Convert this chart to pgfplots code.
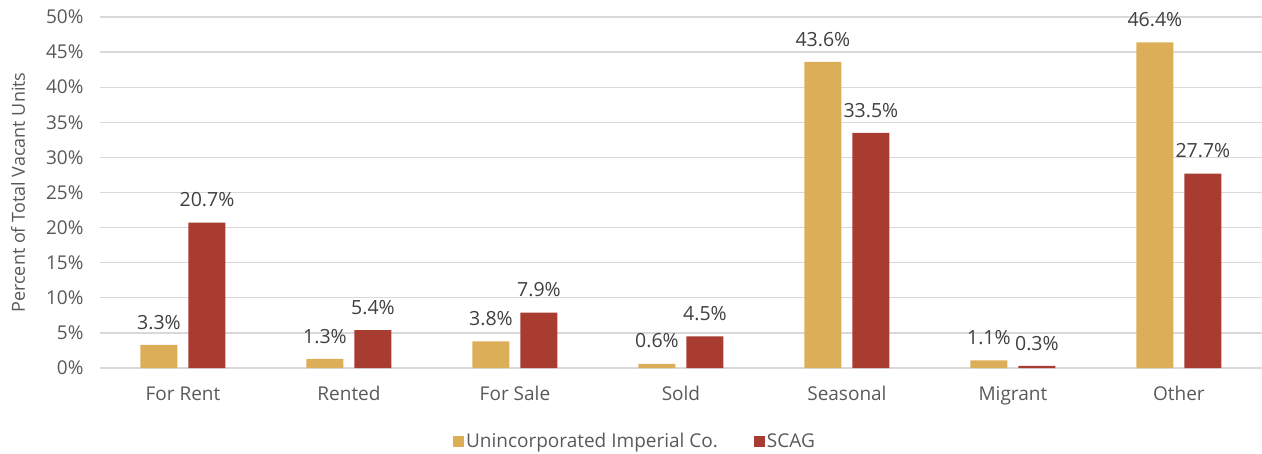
\documentclass[border=0pt]{standalone}
\usepackage{pgfplots}
\pgfplotsset{compat=1.18}
\usepackage{fontspec}
\setmainfont{Open Sans}
\definecolor{cy}{HTML}{DBAE57}
\definecolor{cr}{HTML}{A93C30}
\definecolor{tickc}{HTML}{595959}
\definecolor{labc}{HTML}{404040}
\definecolor{gridc}{HTML}{D9D9D9}
\begin{document}
\begin{tikzpicture}
\begin{axis}[
  scale only axis, width=1162pt, height=351pt,
  at={(0pt,0pt)}, anchor=south west,
  xmin=-0.5, xmax=6.5, ymin=0, ymax=50,
  /pgf/number format/assume math mode=true,
  ytick={0,5,...,50},
  yticklabel={\pgfmathprintnumber{\tick}\%},
  xtick={0,1,2,3,4,5,6},
  xticklabels={For Rent,Rented,For Sale,Sold,Seasonal,Migrant,Other},
  ymajorgrids, grid style={gridc, line width=1.3pt},
  axis line style={draw=none},
  major tick length=0pt,
  tick label style={font=\fontsize{19}{22}\selectfont, text=tickc},
  yticklabel style={xshift=-13pt},
  xticklabel style={yshift=-15pt},
  ylabel={Percent of Total Vacant Units},
  ylabel style={at={(axis description cs:0,0.5)}, anchor=center, yshift=82pt, font=\fontsize{18}{20}\selectfont, text=tickc},
  ybar, bar width=37pt,
  nodes near coords={\pgfmathprintnumber[fixed,precision=1,fixed zerofill]{\pgfplotspointmeta}\%},
  every node near coord/.append style={font=\fontsize{19.5}{22}\selectfont, text=labc, yshift=12pt},
  legend style={at={(0.5,0)}, anchor=north, xshift=-46pt, yshift=-61pt, draw=none, fill=none,
    legend columns=2, font=\fontsize{19}{22}\selectfont, text=tickc,
    /tikz/every even column/.append style={column sep=34pt},
    /tikz/every odd column/.append style={inner xsep=1pt}},
  legend image code/.code={\fill[#1] (0pt,-5.5pt) rectangle (11pt,5.5pt);},
]
\addplot[fill=cy, draw=none, bar shift=-24pt] coordinates {(0,3.3) (1,1.3) (2,3.8) (3,0.6) (4,43.6) (5,1.1) (6,46.4)};
\addplot[fill=cr, draw=none, bar shift=24pt] coordinates {(0,20.7) (1,5.4) (2,7.9) (3,4.5) (4,33.5) (5,0.3) (6,27.7)};
\legend{Unincorporated Imperial Co.,SCAG}
\end{axis}
\pgfresetboundingbox
\path (-100pt,-85pt) rectangle (1162pt,368pt);
\end{tikzpicture}
\end{document}
